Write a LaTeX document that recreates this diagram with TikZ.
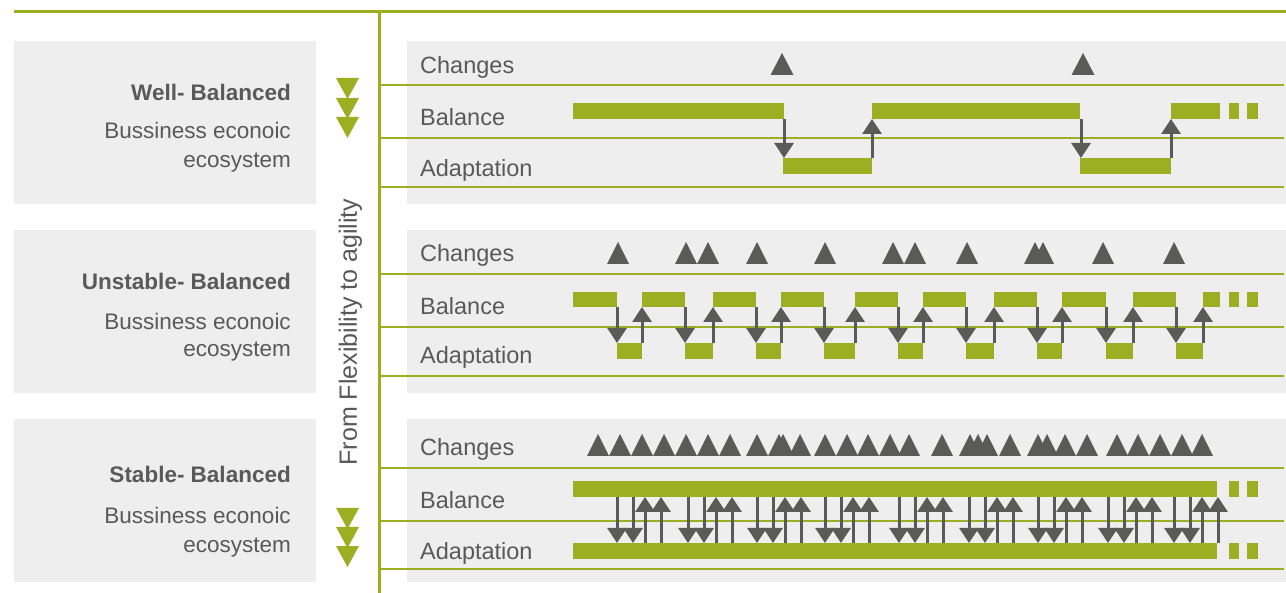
\documentclass[tikz,border=0pt]{standalone}
\usepackage{fontspec}
\setmainfont{Liberation Sans}
\usetikzlibrary{arrows.meta}
\definecolor{leaf}{HTML}{9CAF22}
\definecolor{panel}{HTML}{EEEEEE}
\definecolor{ink}{HTML}{5A5A58}
\definecolor{txt}{HTML}{595959}
\tikzset{shift arrow/.style={draw=ink,line width=3pt,-{Triangle[width=19pt,length=15pt]}}}
\begin{document}
\begin{tikzpicture}[x=1pt,y=-1pt,
    row/.style={anchor=base west,text=txt,inner sep=0,font=\fontsize{23.5}{27}\selectfont},
    title/.style={anchor=base east,text=txt,inner sep=0,font=\bfseries\fontsize{22.5}{26}\selectfont},
    sub/.style={anchor=base east,text=txt,inner sep=0,font=\fontsize{22.5}{26}\selectfont},
    rule/.style={draw=leaf,line width=2pt}]
  \useasboundingbox (0,0) rectangle (1286,593);
  \fill[white] (0,0) rectangle (1286,593);
  \foreach \t/\b in {41/204,230/393,419/582} {
    \fill[panel] (14,\t) rectangle (316,\b);
    \fill[panel] (407,\t) rectangle (1286,\b);
  }
  \draw[leaf,line width=3pt] (14,12) -- (1286,12);
  \draw[leaf,line width=3pt] (379,12) -- (379,593);
  \foreach \y in {85,138,187,274,327,376,468,521,569}
    \draw[rule] (379,\y) -- (1284,\y);
  \foreach \y in {78,98,117,508,527,546}
    \fill[leaf] (336,\y) -- (359,\y) -- (347.5,\y+21) -- cycle;
  \node[anchor=center,rotate=90,text=txt,inner sep=0,font=\fontsize{25}{30}\selectfont]
    (axis) at (350.5,332) {From Flexibility to agility};
  \node[title] (well) at (291,101) {Well- Balanced};
  \node[sub] (well1) at (291,139) {Bussiness econoic};
  \node[sub] (well2) at (291,168) {ecosystem};
  \node[title] (unstable) at (291,290) {Unstable- Balanced};
  \node[sub] (unstable1) at (291,330) {Bussiness econoic};
  \node[sub] (unstable2) at (291,357) {ecosystem};
  \node[title] (stable) at (291,483) {Stable- Balanced};
  \node[sub] (stable1) at (291,523) {Bussiness econoic};
  \node[sub] (stable2) at (291,552) {ecosystem};
  \node[row] (chg1) at (420,74) {Changes};
  \node[row] (bal1) at (420,126) {Balance};
  \node[row] (ada1) at (420,177) {Adaptation};
  \node[row] (chg2) at (420,262) {Changes};
  \node[row] (bal2) at (420,315) {Balance};
  \node[row] (ada2) at (420,364) {Adaptation};
  \node[row] (chg3) at (420,456) {Changes};
  \node[row] (bal3) at (420,509) {Balance};
  \node[row] (ada3) at (420,559) {Adaptation};
  \foreach \x in {782,1083}
    \fill[ink] (\x-11.5,75) -- (\x,53) -- (\x+11.5,75) -- cycle;
  \foreach \a/\b in {573/784,872/1080,1171/1220,1229/1239,1247/1258}
    \fill[leaf] (\a,103) rectangle (\b,119);
  \foreach \a/\b in {783/872,1080/1171} {
    \fill[leaf] (\a,158) rectangle (\b,174);
    \draw[shift arrow] (\a+1,119) -- (\a+1,158);
    \draw[shift arrow] (\b,158) -- (\b,119);
  }
  \foreach \x in {618,686,708,757,825,893,915,967,1035,1043,1103,1174}
    \fill[ink] (\x-11,264) -- (\x,242) -- (\x+11,264) -- cycle;
  \foreach \a/\b in {573/617,642/685,713/756,781/824,855/898,923/966,994/1037,1062/1106,1133/1176,1203/1220,1229/1239,1247/1258}
    \fill[leaf] (\a,292) rectangle (\b,307);
  \foreach \a/\b in {617/642,685/713,756/781,824/855,898/923,966/994,1037/1062,1106/1133,1176/1203} {
    \fill[leaf] (\a,343) rectangle (\b,359);
    \draw[shift arrow] (\a,307) -- (\a,343);
    \draw[shift arrow] (\b,343) -- (\b,307);
  }
  \foreach \x in {598,620,642,664,686,708,730,757,779,783,800,825,847,868,890,909,942,970,978,987,1010,1038,1047,1065,1087,1117,1138,1160,1182,1202}
    \fill[ink] (\x-11,456) -- (\x,434) -- (\x+11,456) -- cycle;
  \foreach \a/\b in {573/1217,1229/1239,1247/1258} {
    \fill[leaf] (\a,481) rectangle (\b,497);
    \fill[leaf] (\a,543) rectangle (\b,559);
  }
  \foreach \s in {617,688,757,825,899,969,1038,1108,1174} {
    \draw[shift arrow] (\s,497) -- (\s,543);
    \draw[shift arrow] (\s+16,497) -- (\s+16,543);
    \draw[shift arrow] (\s+28,543) -- (\s+28,497);
    \draw[shift arrow] (\s+44,543) -- (\s+44,497);
  }
\end{tikzpicture}
\end{document}
